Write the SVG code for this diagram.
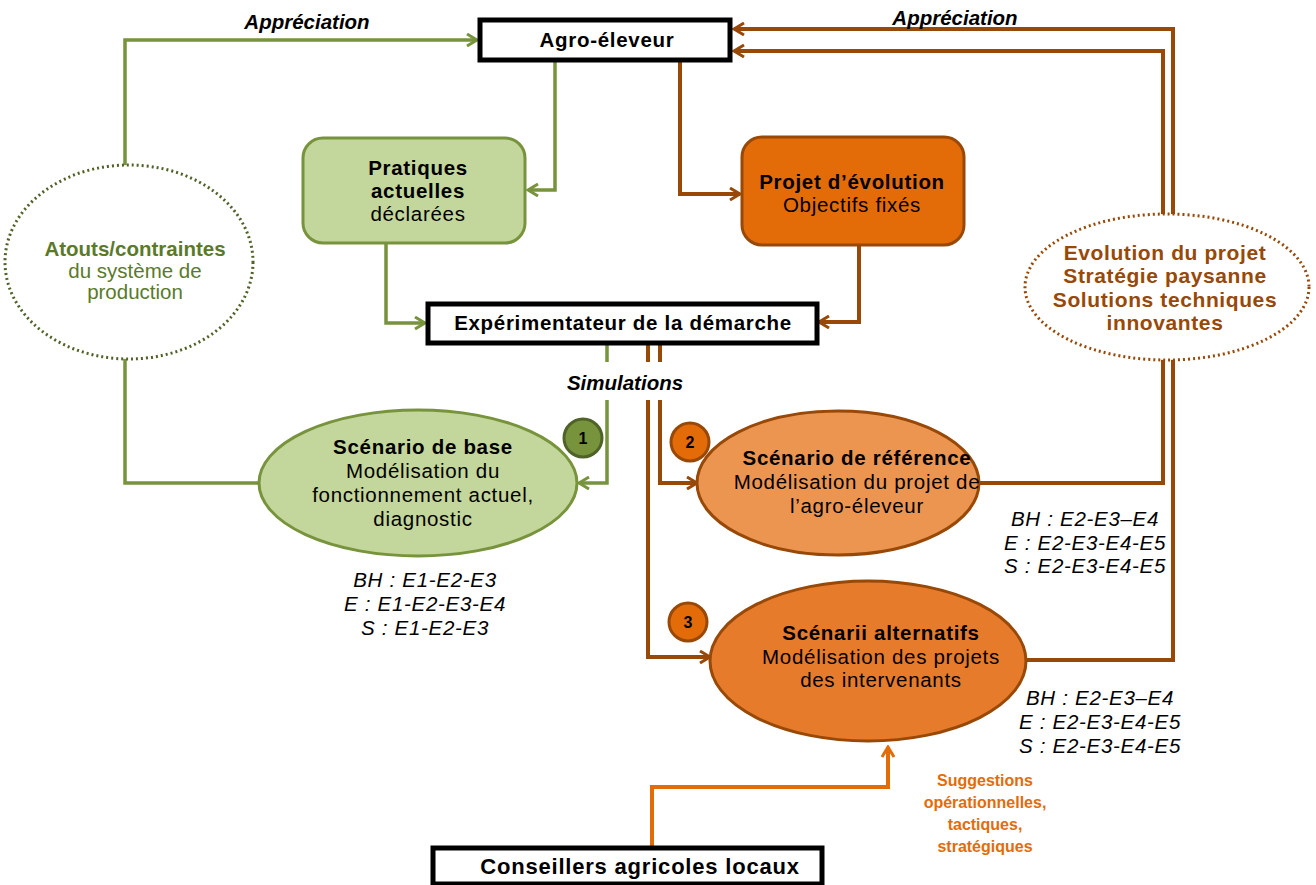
<svg xmlns="http://www.w3.org/2000/svg" width="1316" height="885" viewBox="0 0 1316 885">
<defs>
<style>
text{font-family:"Liberation Sans",Arial,sans-serif;font-size:20.5px;letter-spacing:0.7px;text-anchor:middle;fill:#000}
.b{font-weight:bold}
.bi{font-weight:bold;font-style:italic;font-size:20.5px;letter-spacing:0}
.i{font-style:italic}
.box{fill:#fff;stroke:#000;stroke-width:5}
.g{fill:none;stroke:#77933c;stroke-width:3.5}
.br{fill:none;stroke:#984807;stroke-width:4}
.or{fill:none;stroke:#e36c09;stroke-width:4}
.gt{fill:#5a7a2a;font-size:20.5px;letter-spacing:0}
.bt{fill:#984807;font-weight:bold;font-size:21px;letter-spacing:0.6px}
.ot{fill:#e36c09;font-weight:bold;font-size:16px;letter-spacing:0}
.num{font-weight:bold;font-size:16px;letter-spacing:0}
.big{font-weight:bold;font-size:22px;letter-spacing:0.8px}
</style>
<marker id="ag" viewBox="0 0 14 14" refX="12" refY="7" markerWidth="14" markerHeight="14" orient="auto" markerUnits="userSpaceOnUse"><path d="M2,1 L12,7 L2,13" fill="none" stroke="#77933c" stroke-width="3"/></marker>
<marker id="ab" viewBox="0 0 14 14" refX="12" refY="7" markerWidth="14" markerHeight="14" orient="auto" markerUnits="userSpaceOnUse"><path d="M2,1 L12,7 L2,13" fill="none" stroke="#984807" stroke-width="3"/></marker>
<marker id="ao" viewBox="0 0 14 14" refX="12" refY="7" markerWidth="14" markerHeight="14" orient="auto" markerUnits="userSpaceOnUse"><path d="M2,1 L12,7 L2,13" fill="none" stroke="#e36c09" stroke-width="3"/></marker>
</defs>
<rect width="1316" height="885" fill="#fff"/>
<g id="connectors">
<path class="g" d="M125,167 V40 H477" marker-end="url(#ag)"/>
<path class="g" d="M125,358 V483 H262"/>
<path class="g" d="M555,62 V190 H528" marker-end="url(#ag)"/>
<path class="g" d="M386,243 V323 H425" marker-end="url(#ag)"/>
<path class="g" d="M607,345 V362 M607,400 V483 H579" marker-end="url(#ag)"/>
<path class="br" d="M680,62 V194 H740" marker-end="url(#ab)"/>
<path class="br" d="M859,245 V322 H819" marker-end="url(#ab)"/>
<path class="br" d="M660,345 V362 M660,400 V483 H697" marker-end="url(#ab)"/>
<path class="br" d="M648,345 V362 M648,400 V657 H710" marker-end="url(#ab)"/>
<path class="br" d="M980,483 H1163 V51 H734" marker-end="url(#ab)"/>
<path class="br" d="M1026,660 H1173 V29 H734" marker-end="url(#ab)"/>
<path class="or" d="M652,848 V787 H888 V747" marker-end="url(#ao)"/>
<text class="bi" x="307" y="29">Appréciation</text>
<text class="bi" x="955" y="25">Appréciation</text>
<text class="bi" x="625" y="390">Simulations</text>
</g>
<g id="atouts">
<ellipse cx="129" cy="262" rx="124" ry="97" fill="#fff" stroke="#4f6228" stroke-width="3" stroke-dasharray="2 3"/>
<text x="135" y="256" class="gt" font-weight="bold">Atouts/contraintes</text>
<text x="135" y="278" class="gt">du système de</text>
<text x="135" y="299" class="gt">production</text>
</g>
<g id="evolution">
<ellipse cx="1167" cy="287" rx="142" ry="73" fill="#fff" stroke="#984807" stroke-width="3" stroke-dasharray="2 3"/>
<text x="1165" y="260" class="bt">Evolution du projet</text>
<text x="1165" y="283" class="bt">Stratégie paysanne</text>
<text x="1165" y="307" class="bt">Solutions techniques</text>
<text x="1165" y="330" class="bt">innovantes</text>
</g>
<g id="agro">
<rect class="box" x="480" y="20" width="250" height="40"/>
<text x="607" y="47" class="b">Agro-éleveur</text>
</g>
<g id="pratiques">
<rect x="303" y="138" width="222" height="105" rx="20" fill="#c3d69b" stroke="#77933c" stroke-width="3"/>
<text x="418" y="175" class="b">Pratiques</text>
<text x="418" y="198" class="b">actuelles</text>
<text x="418" y="221">déclarées</text>
</g>
<g id="projet">
<rect x="742" y="137" width="222" height="108" rx="20" fill="#e36c09" stroke="#984807" stroke-width="3"/>
<text x="852" y="189" class="b">Projet d’évolution</text>
<text x="852" y="212">Objectifs fixés</text>
</g>
<g id="experimentateur">
<rect class="box" x="428" y="304" width="389" height="39"/>
<text x="623" y="330" class="b">Expérimentateur de la démarche</text>
</g>
<g id="base">
<ellipse cx="418" cy="483" rx="159" ry="73" fill="#c3d69b" stroke="#77933c" stroke-width="3"/>
<text x="423" y="454" class="b">Scénario de base</text>
<text x="423" y="478">Modélisation du</text>
<text x="423" y="502">fonctionnement actuel,</text>
<text x="423" y="526">diagnostic</text>
<circle cx="583" cy="438" r="19" fill="#77933c" stroke="#4f6228" stroke-width="3"/>
<text x="583" y="444" class="num">1</text>
<text x="425" y="587" class="i">BH : E1-E2-E3</text>
<text x="425" y="611" class="i">E : E1-E2-E3-E4</text>
<text x="425" y="635" class="i">S : E1-E2-E3</text>
</g>
<g id="reference">
<ellipse cx="838" cy="483" rx="141" ry="72" fill="#ec9550" stroke="#984807" stroke-width="3"/>
<text x="857" y="465" class="b">Scénario de référence</text>
<text x="857" y="489">Modélisation du projet de</text>
<text x="857" y="513">l’agro-éleveur</text>
<circle cx="690" cy="442" r="19" fill="#e36c09" stroke="#984807" stroke-width="3"/>
<text x="690" y="448" class="num">2</text>
<text x="1085" y="526" class="i">BH : E2-E3–E4</text>
<text x="1085" y="550" class="i">E : E2-E3-E4-E5</text>
<text x="1085" y="573" class="i">S : E2-E3-E4-E5</text>
</g>
<g id="alternatifs">
<ellipse cx="868" cy="661" rx="158" ry="80" fill="#e67b2c" stroke="#984807" stroke-width="3"/>
<text x="881" y="640" class="b">Scénarii alternatifs</text>
<text x="881" y="664">Modélisation des projets</text>
<text x="881" y="687">des intervenants</text>
<circle cx="688" cy="622" r="19" fill="#e36c09" stroke="#984807" stroke-width="3"/>
<text x="688" y="628" class="num">3</text>
<text x="1100" y="705" class="i">BH : E2-E3–E4</text>
<text x="1100" y="729" class="i">E : E2-E3-E4-E5</text>
<text x="1100" y="753" class="i">S : E2-E3-E4-E5</text>
</g>
<g id="conseillers">
<rect class="box" x="433" y="848" width="389" height="36"/>
<text x="640" y="874" class="big">Conseillers agricoles locaux</text>
<text x="985" y="786" class="ot">Suggestions</text>
<text x="985" y="808" class="ot">opérationnelles,</text>
<text x="985" y="830" class="ot">tactiques,</text>
<text x="985" y="852" class="ot">stratégiques</text>
</g>
</svg>
